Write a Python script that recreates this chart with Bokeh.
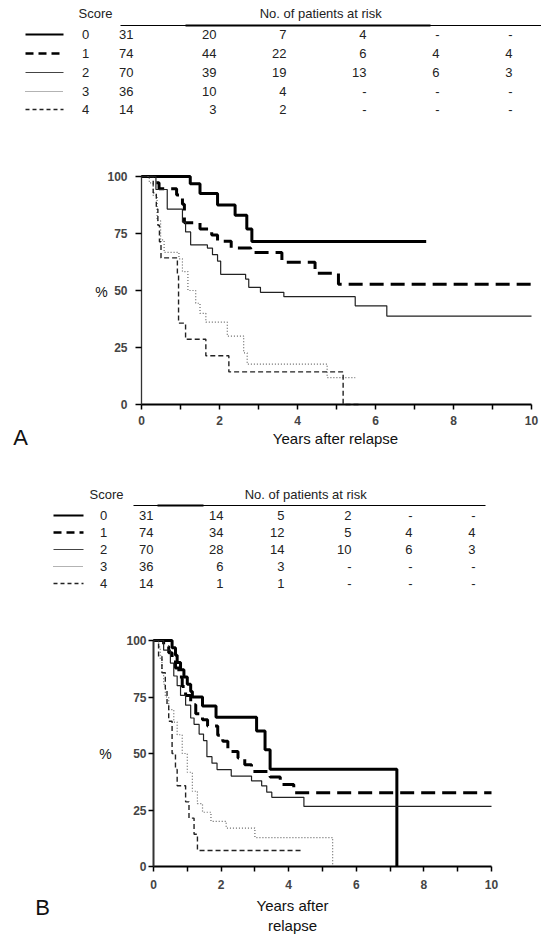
from bokeh.plotting import figure
from bokeh.models import Range1d, FixedTicker
from bokeh.layouts import column
from bokeh.embed import file_html
from bokeh.resources import INLINE
from bokeh.core.properties import value

FONT = "Liberation Sans"

# ---------------- data ----------------
scores = ["0", "1", "2", "3", "4"]

risk_A = [
    ["31", "20", "7", "4", "-", "-"],
    ["74", "44", "22", "6", "4", "4"],
    ["70", "39", "19", "13", "6", "3"],
    ["36", "10", "4", "-", "-", "-"],
    ["14", "3", "2", "-", "-", "-"],
]
risk_B = [
    ["31", "14", "5", "2", "-", "-"],
    ["74", "34", "12", "5", "4", "4"],
    ["70", "28", "14", "10", "6", "3"],
    ["36", "6", "3", "-", "-", "-"],
    ["14", "1", "1", "-", "-", "-"],
]

x_ticks = [0, 2, 4, 6, 8, 10]
x_minor = [1, 3, 5, 7, 9]
y_ticks = [0, 25, 50, 75, 100]

# Panel A survival curves (years, %)
a0_t = [0, 1.25, 1.5, 1.95, 2.4, 2.7, 2.83, 7.3]
a0_s = [100, 96.8, 92.5, 87.5, 83.0, 77.0, 71.5, 71.5]
a1_t = [0, 0.35, 0.45, 0.9, 1.05, 1.1, 1.5, 1.8, 1.95, 2.3, 2.8, 3.6, 4.45, 5.05, 10]
a1_s = [100, 97.3, 94.6, 91.9, 87.8, 79.7, 77.0, 74.3, 71.6, 68.6, 66.7, 62.4, 57.6, 52.7, 52.7]
a2_t = [0, 0.37, 0.66, 1.05, 1.13, 1.26, 1.69, 1.82, 1.95, 2.03, 2.67, 2.75, 3.05, 3.65, 5.48, 6.29, 10]
a2_s = [100, 94.3, 85.7, 80.0, 75.7, 70.0, 68.6, 65.7, 62.9, 57.1, 55.0, 51.4, 49.2, 47.3, 43.3, 38.8, 38.8]
a3_t = [0, 0.2, 0.3, 0.4, 0.49, 0.58, 0.96, 1.05, 1.19, 1.39, 1.5, 1.65, 2.2, 2.62, 2.71, 4.76, 5.48]
a3_s = [100, 97.2, 91.7, 80.6, 72.2, 66.7, 63.9, 58.3, 50.0, 44.4, 40.0, 36.1, 30.0, 22.6, 17.7, 11.8, 11.8]
a4_t = [0, 0.3, 0.38, 0.42, 0.46, 0.5, 0.92, 0.95, 1.13, 1.65, 2.24, 5.17, 5.6]
a4_s = [100, 92.9, 85.7, 78.6, 71.4, 64.3, 57.1, 35.7, 28.6, 21.4, 14.3, 0, 0]

# Panel B survival curves (years, %)
b0_t = [0, 0.55, 0.65, 0.7, 0.8, 0.9, 1.0, 1.1, 1.15, 1.45, 1.85, 3.05, 3.3, 3.45, 7.2]
b0_s = [100, 96.8, 93.5, 90.3, 87.1, 83.9, 80.6, 77.4, 75.0, 71.0, 66.0, 60.0, 51.7, 43.0, 0]
b1_t = [0, 0.3, 0.45, 0.55, 0.65, 0.75, 0.85, 0.95, 1.1, 1.25, 1.45, 1.6, 1.9, 2.05, 2.2, 2.5, 2.7, 2.9, 3.45, 3.75, 4.15, 10]
b1_s = [100, 97.3, 94.6, 91.9, 87.8, 83.8, 79.7, 75.7, 71.6, 67.6, 64.9, 62.2, 58.1, 55.4, 50.9, 48.0, 45.0, 42.0, 39.6, 36.3, 32.6, 32.6]
b2_t = [0, 0.3, 0.5, 0.6, 0.7, 0.8, 0.95, 1.1, 1.2, 1.35, 1.48, 1.58, 1.73, 1.88, 2.3, 2.9, 3.2, 3.35, 3.5, 4.45, 10]
b2_s = [100, 95.7, 90.0, 84.3, 80.0, 75.7, 71.4, 65.7, 62.9, 58.6, 55.7, 48.6, 45.7, 42.9, 40.0, 37.9, 35.7, 32.9, 30.6, 26.6, 26.6]
b3_t = [0, 0.15, 0.2, 0.25, 0.3, 0.35, 0.45, 0.6, 0.7, 0.85, 1.0, 1.15, 1.3, 1.45, 1.7, 2.15, 3.0, 5.3]
b3_s = [100, 97.2, 91.7, 86.1, 80.6, 75.0, 69.4, 63.9, 58.3, 50.0, 41.7, 33.3, 27.8, 24.0, 20.0, 17.0, 12.8, 0]
b4_t = [0, 0.15, 0.25, 0.35, 0.4, 0.45, 0.55, 0.65, 0.7, 0.95, 1.05, 1.2, 1.3, 4.4]
b4_s = [100, 92.9, 85.7, 78.6, 71.4, 64.3, 50.0, 42.9, 35.7, 28.6, 21.4, 14.3, 7.1, 7.1]

curves_A = [(a0_t, a0_s), (a1_t, a1_s), (a2_t, a2_s), (a3_t, a3_s), (a4_t, a4_s)]
curves_B = [(b0_t, b0_s), (b1_t, b1_s), (b2_t, b2_s), (b3_t, b3_s), (b4_t, b4_s)]

# ---------------- styles ----------------
curve_style = [
    dict(line_width=3, line_dash="solid", line_color="black"),
    dict(line_width=3, line_dash="14 7", line_color="black"),
    dict(line_width=1.2, line_dash="solid", line_color="#222222"),
    dict(line_width=1.2, line_dash="1 2", line_color="#666666"),
    dict(line_width=1.4, line_dash="5 3", line_color="#222222"),
]
legend_style = [
    dict(line_width=2, line_dash="solid", line_color="black"),
    dict(line_width=2.5, line_dash="8 5", line_color="black"),
    dict(line_width=1, line_dash="solid", line_color="#444444"),
    dict(line_width=1.2, line_dash="1 1", line_color="#666666"),
    dict(line_width=1.3, line_dash="4 3", line_color="#222222"),
]

W = 541
TXT = dict(text_font=value(FONT), text_font_size=value("13px"), text_baseline="middle", text_color="#222222")


def table_fig(top, bottom, lay, risk):
    h = bottom - top
    p = figure(width=W, height=h, x_range=Range1d(0, W), y_range=Range1d(bottom, top),
               output_backend="svg", toolbar_location=None, min_border=0,
               x_axis_location=None, y_axis_location=None)
    p.outline_line_color = None
    p.grid.visible = False
    p.text(x=[lay["score_x"]], y=[lay["head_y"]], text=["Score"], text_align="center", **TXT)
    p.text(x=[lay["head_x"]], y=[lay["head_y"]], text=["No. of  patients at risk"], text_align="center", **TXT)
    p.segment(x0=[lay["line_x0"]], y0=[lay["line_y"]], x1=[lay["line_x1"]], y1=[lay["line_y"]],
              line_color="black", line_width=1.2)
    p.segment(x0=[lay["thick_x0"]], y0=[lay["line_y"]], x1=[lay["thick_x1"]], y1=[lay["line_y"]],
              line_color="black", line_width=2)
    for i, sc in enumerate(scores):
        y = lay["rows_y"][i]
        p.segment(x0=[lay["leg_x0"]], y0=[y], x1=[lay["leg_x1"]], y1=[y], **legend_style[i])
        p.text(x=[lay["digit_x"]], y=[y], text=[sc], text_align="center", **TXT)
        p.text(x=lay["col_right"], y=[y] * len(risk[i]), text=risk[i], text_align="right", **TXT)
    return p


def chart_fig(top, bottom, px0, px10, py0, py100, curves, ystand, xstand, ytick_out, yaxis_w):
    h = bottom - top
    sx = (px10 - px0) / 10.0
    sy = (py0 - py100) / 100.0
    xr = Range1d(-px0 / sx, (W - px0) / sx)
    yr = Range1d(-(bottom - py0) / sy, (py0 - top) / sy)
    p = figure(width=W, height=h, x_range=xr, y_range=yr,
               output_backend="svg", toolbar_location=None, min_border=0)
    p.outline_line_color = None
    p.grid.visible = False
    for (t, s), st in zip(curves, curve_style):
        p.step(t, s, mode="after", **st)
    xa = p.xaxis[0]
    xa.fixed_location = 0
    xa.bounds = (0, 10)
    xa.ticker = FixedTicker(ticks=x_ticks, minor_ticks=x_minor)
    xa.axis_line_width = 2
    xa.major_tick_out = 5
    xa.major_tick_in = 0
    xa.minor_tick_out = 5
    xa.minor_tick_in = 0
    xa.major_tick_line_width = 1.5
    xa.minor_tick_line_width = 1.5
    xa.major_label_text_font = FONT
    xa.major_label_text_font_style = "bold"
    xa.major_label_text_font_size = "12px"
    xa.major_label_standoff = xstand
    ya = p.yaxis[0]
    ya.fixed_location = 0
    ya.bounds = (0, 100)
    ya.ticker = FixedTicker(ticks=y_ticks, minor_ticks=[])
    ya.axis_line_width = yaxis_w
    ya.axis_line_color = "#333333"
    ya.major_tick_out = ytick_out
    ya.major_tick_in = 0
    ya.major_tick_line_width = 1.5
    ya.major_label_text_font = FONT
    ya.major_label_text_font_style = "bold"
    ya.major_label_text_font_size = "12px"
    ya.major_label_standoff = ystand

    def to_data(px, py):
        return (px - px0) / sx, (py0 - py) / sy
    return p, to_data


def put(p, to_data, px, py, txt, size):
    x, y = to_data(px, py)
    p.text(x=[x], y=[y], text=[txt], text_font=value(FONT), text_font_size=value(size),
           text_align="center", text_baseline="middle", text_color="#111111")


layA = dict(score_x=95, head_x=322, head_y=13, line_x0=120, line_x1=541, line_y=25,
            thick_x0=185, thick_x1=430, leg_x0=25, leg_x1=63, digit_x=85,
            rows_y=[34, 53, 72, 91, 109], col_right=[133, 216, 286, 366, 439, 512])
layB = dict(score_x=106, head_x=307, head_y=494, line_x0=133, line_x1=485, line_y=505,
            thick_x0=157, thick_x1=203, leg_x0=53, leg_x1=83, digit_x=103,
            rows_y=[515, 532, 549, 566, 583], col_right=[153, 223, 284, 351, 412, 475])

tA = table_fig(0, 140, layA, risk_A)
cA, dA = chart_fig(140, 470, 141, 531, 404, 176, curves_A, 8, 6, 6, 1.3)
put(cA, dA, 101, 291, "%", "14px")
put(cA, dA, 335, 438, "Years after relapse", "15px")
put(cA, dA, 20, 437, "A", "22px")

tB = table_fig(470, 600, layB, risk_B)
cB, dB = chart_fig(600, 942, 153, 491, 866, 640, curves_B, 2, 8, 5, 2)
put(cB, dB, 105, 753, "%", "14px")
put(cB, dB, 292, 905, "Years after", "15px")
put(cB, dB, 292, 925, "relapse", "15px")
put(cB, dB, 42, 907, "B", "22px")

page = column(tA, cA, tB, cB, spacing=0)
open("out.html", "w").write(file_html(page, INLINE))
